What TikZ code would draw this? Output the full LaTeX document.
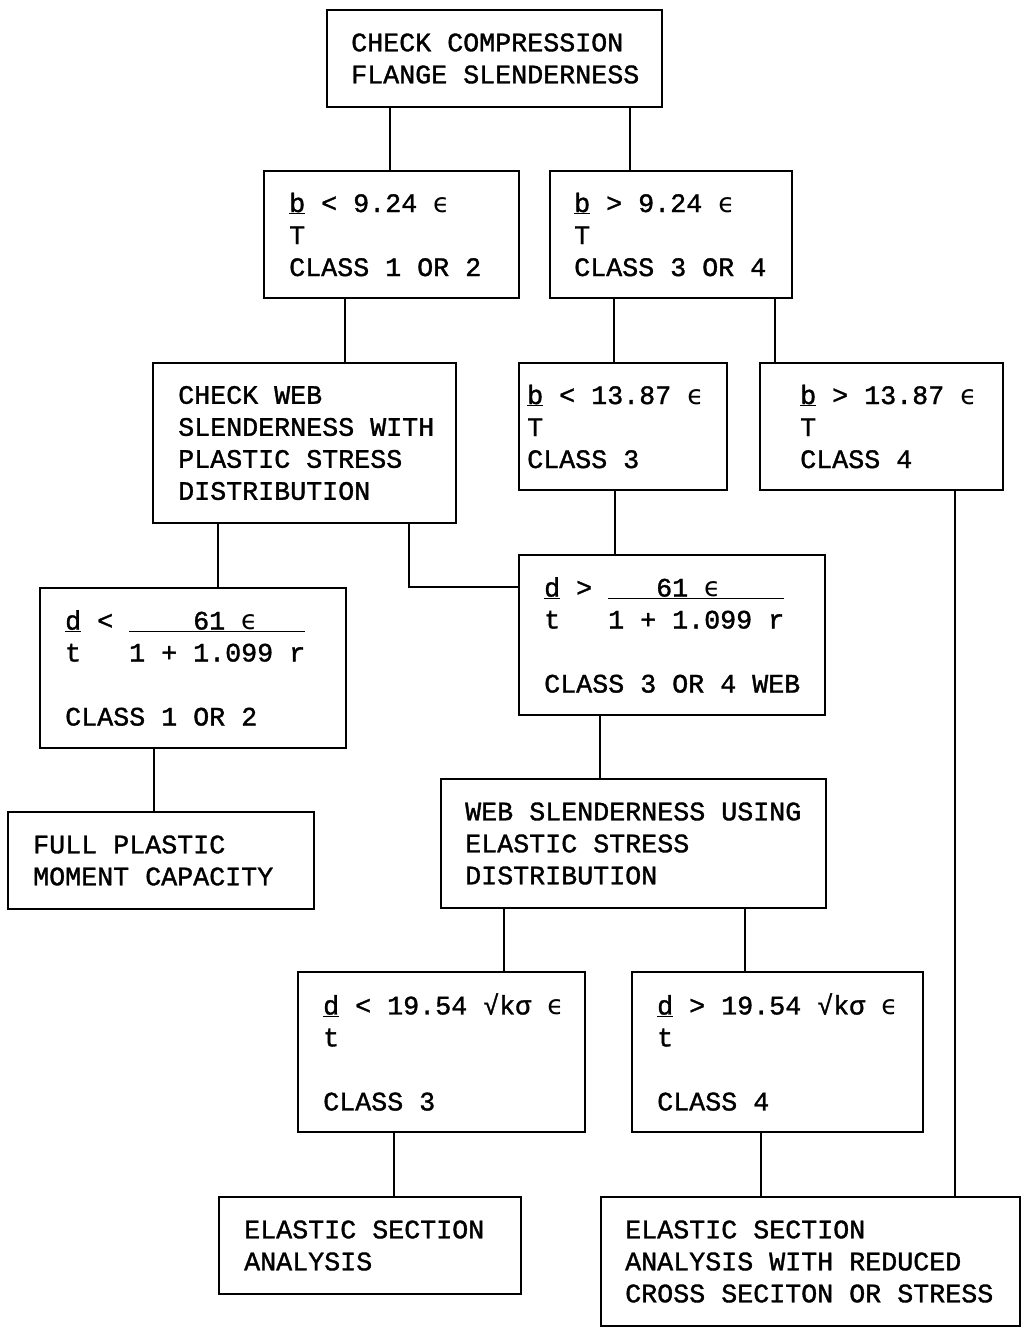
\documentclass[tikz,border=0pt]{standalone}
\usepackage{fontspec}
\newfontfamily\mono{Liberation Mono}[FakeBold=1.3]
\newfontfamily\djv{DejaVu Sans}
\newcommand\eps{{\djv ϵ}}
\newcommand\frc[1]{\underline{\makebox[176pt][l]{#1}}}
\newcommand\mybox[7]{%
  \node[box, minimum width=#4pt, minimum height=#5pt] (#1) at (#2,#3) {};
  \node[txt] (#1t) at ([xshift=#6pt]#1.west) {#7};}
\begin{document}
\begin{tikzpicture}[x=1pt,y=-1pt,
  box/.style={draw, line width=1.5pt, rectangle, inner sep=0pt, outer sep=0pt, anchor=north west},
  txt/.style={anchor=west, align=left, inner sep=0pt, font=\fontsize{26.67}{32}\selectfont\mono},
  wire/.style={line width=1.5pt}]
\useasboundingbox (0,0) rectangle (1024,1332);
\fill[white] (0,0) rectangle (1024,1332);

\mybox{n1}{327}{10}{335}{97}{24}{CHECK COMPRESSION\\FLANGE SLENDERNESS}
\mybox{n2}{264}{171}{255}{127}{25}{\underline{b} < 9.24 \eps\\T\\CLASS 1 OR 2}
\mybox{n3}{550}{171}{242}{127}{24}{\underline{b} > 9.24 \eps\\T\\CLASS 3 OR 4}
\mybox{n4}{153}{363}{303}{160}{25}{CHECK WEB\\SLENDERNESS WITH\\PLASTIC STRESS\\DISTRIBUTION}
\mybox{n5}{519}{363}{208}{127}{8}{\underline{b} < 13.87 \eps\\T\\CLASS 3}
\mybox{n6}{760}{363}{243}{127}{40}{\underline{b} > 13.87 \eps\\T\\CLASS 4}
\mybox{n7}{40}{588}{306}{160}{25}{\underline{d} < \frc{\hspace*{64pt}61 \eps}\\t\hspace{48pt}1 + 1.099 r\\[32pt]CLASS 1 OR 2}
\mybox{n8}{519}{555}{306}{160}{25}{\underline{d} > \frc{\hspace*{48pt}61 \eps}\\t\hspace{48pt}1 + 1.099 r\\[32pt]CLASS 3 OR 4 WEB}
\mybox{n9}{8}{812}{306}{97}{25}{FULL PLASTIC\\MOMENT CAPACITY}
\mybox{n10}{441}{779}{385}{129}{24}{WEB SLENDERNESS USING\\ELASTIC STRESS\\DISTRIBUTION}
\mybox{n11}{298}{972}{287}{160}{25}{\underline{d} < 19.54 √kσ \eps\\t\\[32pt]CLASS 3}
\mybox{n12}{632}{972}{291}{160}{25}{\underline{d} > 19.54 √kσ \eps\\t\\[32pt]CLASS 4}
\mybox{n13}{219}{1197}{302}{97}{25}{ELASTIC SECTION\\ANALYSIS}
\mybox{n14}{601}{1197}{419}{129}{24}{ELASTIC SECTION\\ANALYSIS WITH REDUCED\\CROSS SECITON OR STRESS}

\draw[wire] ([xshift=63pt]n1.south west) -- ([xshift=126pt]n2.north west);
\draw[wire] ([xshift=303pt]n1.south west) -- ([xshift=80pt]n3.north west);
\draw[wire] ([xshift=81pt]n2.south west) -- ([xshift=192pt]n4.north west);
\draw[wire] ([xshift=64pt]n3.south west) -- ([xshift=95pt]n5.north west);
\draw[wire] ([xshift=225pt]n3.south west) -- ([xshift=15pt]n6.north west);
\draw[wire] ([xshift=65pt]n4.south west) -- ([xshift=178pt]n7.north west);
\draw[wire] ([xshift=256pt]n4.south west) |- ([yshift=-32pt]n8.north west);
\draw[wire] ([xshift=96pt]n5.south west) -- ([xshift=96pt]n8.north west);
\draw[wire] ([xshift=195pt]n6.south west) -- ([xshift=354pt]n14.north west);
\draw[wire] ([xshift=114pt]n7.south west) -- ([xshift=146pt]n9.north west);
\draw[wire] ([xshift=81pt]n8.south west) -- ([xshift=159pt]n10.north west);
\draw[wire] ([xshift=63pt]n10.south west) -- ([xshift=206pt]n11.north west);
\draw[wire] ([xshift=304pt]n10.south west) -- ([xshift=113pt]n12.north west);
\draw[wire] ([xshift=96pt]n11.south west) -- ([xshift=175pt]n13.north west);
\draw[wire] ([xshift=129pt]n12.south west) -- ([xshift=160pt]n14.north west);
\end{tikzpicture}
\end{document}
